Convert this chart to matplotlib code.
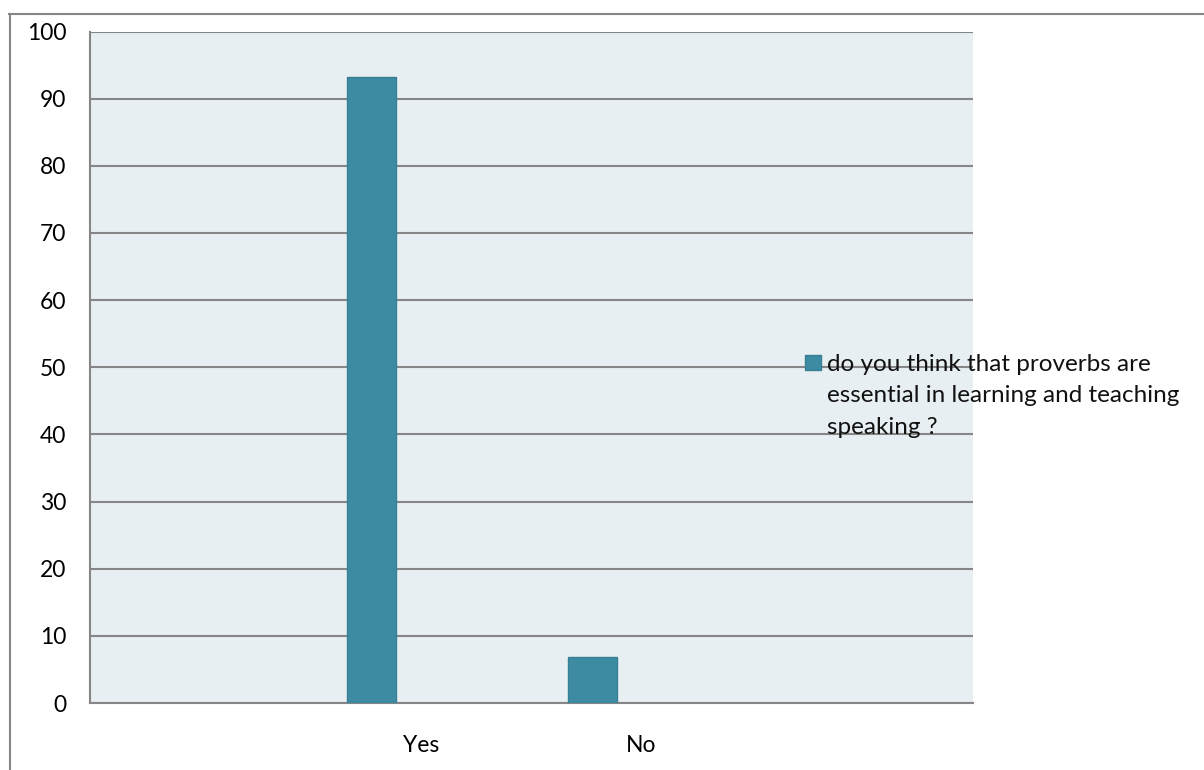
import numpy as np
import matplotlib.pyplot as plt
from matplotlib.lines import Line2D
from matplotlib.patches import Rectangle

# Survey answers (percent)
categories = ['Yes', 'No']
values = [93.2, 6.8]
series_label = 'do you think that proverbs are\nessential in learning and teaching\nspeaking ?'

W, H = 1204, 770
plt.rcParams['font.family'] = ['Lato', 'DejaVu Sans']

fig = plt.figure(figsize=(W / 100, H / 100), dpi=100)
ax = fig.add_axes([90 / W, 1 - 703 / H, (972.5 - 90) / W, (703 - 31.5) / H])

grey = '#868686'
bar_color = '#3d8ba3'
ax.set_facecolor('#e8eff3')

# two blank category slots round the real ones
x = np.arange(len(categories)) + 1
bars = ax.bar(x - 0.222, values, width=0.222, color=bar_color,
              edgecolor='#367f96', linewidth=1, label=series_label, zorder=3)

ax.set_xlim(-0.5, 3.5)
ax.set_ylim(0, 100)
ax.set_yticks(np.arange(0, 101, 10))
ax.set_xticks(x)
ax.set_xticklabels(categories)
ax.yaxis.grid(True, color=grey, linewidth=1.5, zorder=1)
ax.set_axisbelow(True)
ax.tick_params(axis='y', length=0, pad=17, labelsize=16.5)
ax.tick_params(axis='x', length=0, pad=23, labelsize=16.5)

for side in ['top', 'right']:
    ax.spines[side].set_visible(False)
for side in ['left', 'bottom']:
    ax.spines[side].set_color(grey)
    ax.spines[side].set_linewidth(1.5)

# legend: key square beside the first line of the wrapped label
fig.add_artist(Rectangle((805 / W, 1 - 370 / H), 16 / W, 15 / H,
                         transform=fig.transFigure, facecolor=bar_color,
                         edgecolor='#367f96', linewidth=1, zorder=5))
fig.text(827 / W, 1 - 396 / H, series_label, ha='left', va='center',
         fontsize=17.5, linespacing=1.6, color='#111111', zorder=5)

# outer chart frame (top and left edges)
fig.add_artist(Line2D([9 / W, 1], [1 - 14 / H, 1 - 14 / H], color=grey, linewidth=1.5))
fig.add_artist(Line2D([10 / W, 10 / W], [0, 1 - 14 / H], color=grey, linewidth=1.5))

fig.savefig('out.png', dpi=100)
